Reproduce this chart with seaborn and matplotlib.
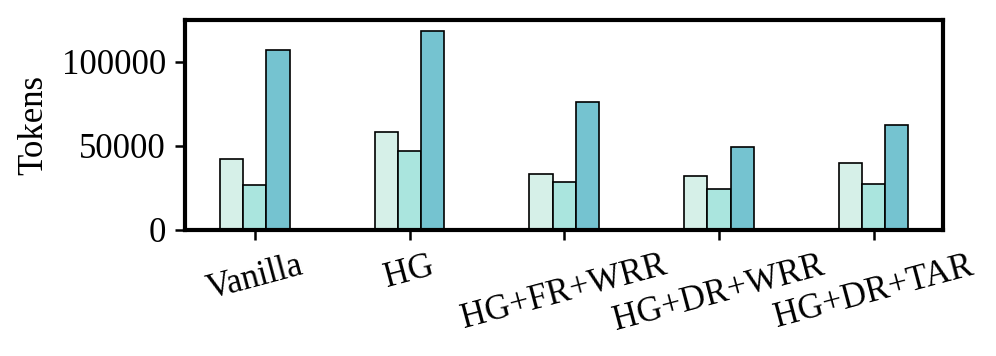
import glob
import pandas as pd
import matplotlib.pyplot as plt
from matplotlib import font_manager as fm
import seaborn as sns

methods = ["Vanilla", "HG", "HG+FR+WRR", "HG+DR+WRR", "HG+DR+TAR"]
series = ["A", "B", "C"]
tokens_a = [42300, 58100, 33500, 32300, 39900]
tokens_b = [26800, 46800, 28400, 24200, 27600]
tokens_c = [107000, 118600, 76400, 49600, 62700]
colors = ["#d6f0e8", "#aae5de", "#75c3d0"]

df = pd.DataFrame({
    "method": methods * 3,
    "series": [s for s in series for _ in methods],
    "tokens": tokens_a + tokens_b + tokens_c,
})

# make sure a Times-like font is registered
serif_name = "DejaVu Serif"
files = glob.glob("/usr/share/fonts/**/LiberationSerif-Regular.ttf", recursive=True)
if files:
    fm.fontManager.addfont(files[0])
    serif_name = fm.FontProperties(fname=files[0]).get_name()

sns.set_style("ticks")
plt.rcParams["font.family"] = [serif_name, "DejaVu Serif"]

fig = plt.figure(figsize=(4.98, 1.78), dpi=200)
ax = fig.add_axes([0.186, 0.354, 0.761, 0.59])
sns.barplot(data=df, x="method", y="tokens", hue="series", palette=colors,
            saturation=1, width=0.45, gap=0, edgecolor="black", linewidth=0.6,
            legend=False, ax=ax)
ax.set_xlim(-0.45, 4.45)
ax.set_ylim(0, 125000)
ax.set_yticks([0, 50000, 100000])
ax.set_xlabel("")
ax.set_ylabel("Tokens", fontsize=12.5, color="black")
ax.tick_params(axis="both", labelsize=12.5, width=0.9, length=3.5,
               colors="black")
plt.setp(ax.get_xticklabels(), rotation=15)
for sp in ax.spines.values():
    sp.set_linewidth(1.5)
    sp.set_color("black")
    sp.set_visible(True)

fig.savefig("out.png", dpi=200)
